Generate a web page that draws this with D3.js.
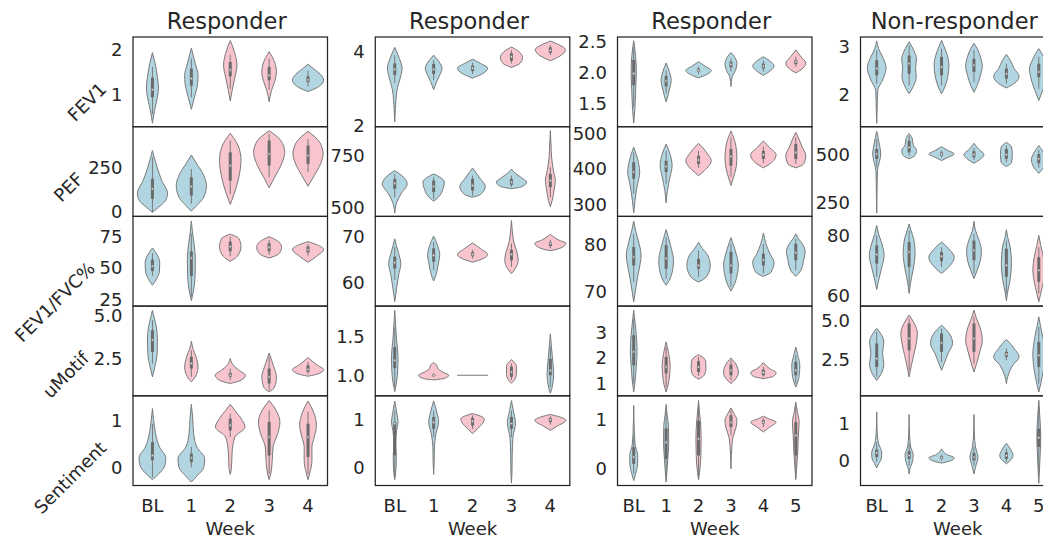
<!DOCTYPE html>
<html>
<head>
<meta charset="utf-8">
<script src="https://d3js.org/d3.v7.min.js"></script>
<style>
  body { margin: 0; background: #fff; }
  svg { display: block; font-family: "DejaVu Sans", sans-serif; }
</style>
</head>
<body>
<svg width="1043" height="539"></svg>
<script>
// panel titles, row measures and week categories
const groups = ["Responder", "Responder", "Responder", "Non-responder"];
const measures = ["FEV1", "PEF", "FEV1/FVC%", "uMotif", "Sentiment"];
const weeks = [
  ["BL", "1", "2", "3", "4"],
  ["BL", "1", "2", "3", "4"],
  ["BL", "1", "2", "3", "4", "5"],
  ["BL", "1", "2", "3", "4", "5"]
];

// y limits and tick labels, per column then per row
const yLimits = [
  [[0.28, 2.29], [-30, 481], [19.8, 90.5], [0.35, 5.52], [-0.374, 1.52]],
  [[1.98, 4.4], [455, 890], [54.9, 74.5], [0.737, 1.885], [-0.37, 1.5]],
  [[1.13, 2.58], [266, 519], [67, 86], [0.52, 4.03], [-0.34, 1.486]],
  [[1.34, 3.19], [179, 645], [56.6, 86.3], [0.2, 5.89], [-0.67, 1.73]]
];
const yTicks = [
  [["1", "2"], ["0", "250"], ["25", "50", "75"], ["2.5", "5.0"], ["0", "1"]],
  [["2", "4"], ["500", "750"], ["60", "70"], ["1.0", "1.5"], ["0", "1"]],
  [["1.5", "2.0", "2.5"], ["300", "400", "500"], ["70", "80"], ["1", "2", "3"], ["0", "1"]],
  [["2", "3"], ["250", "500"], ["60", "80"], ["2.5", "5.0"], ["0", "1"]]
];

// b = lightblue, p = pink
const hues = [
  ["bbppb", "bbppp", "bbppp", "bpppp", "bbppp"],
  ["bbbpp", "bbbbp", "bbppp", "bpppb", "bbpbp"],
  ["bbbbbp", "bbpppp", "bbbbbb", "bppppb", "bbpppp"],
  ["bbbbbb", "bbbbbb", "bbbbbp", "bpbpbb", "bbbbbb"]
];

// each violin: [density profile [[value, relative width], ...] bottom to top,
//               box [low whisker, q1, median, q3, high whisker]]
const patient1 = [
  [ // FEV1
    [[[0.36,0],[0.64,.13],[0.94,.32],[1.15,.39],[1.39,.32],[1.70,.17],[1.94,0]], [0.56,0.94,1.11,1.38,1.62]],
    [[[0.67,0],[0.94,.2],[1.24,.4],[1.43,.43],[1.70,.25],[2.04,0]], [0.94,1.2,1.36,1.58,1.81]],
    [[[0.86,0],[1.09,.12],[1.39,.3],[1.66,.43],[1.92,.3],[2.21,0]], [1.13,1.41,1.55,1.73,1.89]],
    [[[0.84,0],[1.09,.15],[1.32,.38],[1.51,.47],[1.73,.35],[1.96,0]], [1.11,1.32,1.43,1.62,1.81]],
    [[[1.07,0],[1.15,.55],[1.32,1.0],[1.45,.8],[1.58,.35],[1.68,0]], [1.18,1.28,1.33,1.41,1.53]]
  ],
  [ // PEF
    [[[-7,0],[23,.4],[61,.85],[102,.97],[174,.6],[250,.3],[345,0]], [-5,70,127,184,307]],
    [[[0,0],[32,.35],[80,.8],[146,.97],[212,.75],[269,.35],[320,0]], [42,89,140,193,240]],
    [[[38,0],[98,.25],[193,.55],[288,.69],[364,.55],[443,0]], [98,174,259,335,402]],
    [[[133,0],[193,.35],[259,.75],[335,1.0],[402,.75],[458,0]], [193,259,326,402,439]],
    [[[142,0],[203,.4],[269,.8],[326,.97],[392,.75],[455,0]], [222,269,316,373,411]]
  ],
  [ // FEV1/FVC%
    [[[36.3,0],[41,.25],[47.4,.45],[53.8,.47],[60.3,.3],[65.5,0]], [43.5,47.4,51.3,56.4,61.6]],
    [[[24.2,0],[30.6,.12],[43.5,.24],[56.4,.26],[69.3,.17],[78.3,.07],[86.9,0]], [27.1,43.5,57.7,62.9,77]],
    [[[55.1,0],[59,.45],[66.7,.69],[73.2,.55],[76.5,0]], [59,62.9,66.7,70.6,74.5]],
    [[[57.7,0],[60.8,.6],[66.2,.8],[70.6,.6],[74.5,0]], [60.3,62.9,66.2,69.3,72]],
    [[[54.3,0],[59,.55],[64.6,1.0],[68,.6],[70.6,0]], [59.4,62.1,64.1,66.7,68.7]]
  ],
  [ // uMotif
    [[[1.44,0],[2.0,.15],[2.79,.3],[3.56,.32],[4.33,.25],[4.9,.1],[5.28,0]], [2.2,2.88,3.56,4.13,4.7]],
    [[[1.15,0],[1.44,.25],[2.0,.43],[2.6,.3],[3.08,.1],[3.5,0]], [1.44,1.92,2.21,2.6,2.98]],
    [[[1.06,0],[1.25,.7],[1.54,.97],[1.83,.55],[2.11,.2],[2.5,0]], [1.25,1.44,1.54,1.67,1.92]],
    [[[0.57,0],[0.86,.35],[1.44,.47],[2.02,.3],[2.5,.12],[2.82,0]], [0.67,1.06,1.44,1.92,2.6]],
    [[[1.48,0],[1.63,.7],[1.87,1.0],[2.11,.6],[2.36,.25],[2.56,0]], [1.6,1.73,1.87,2.11,2.3]]
  ],
  [ // Sentiment
    [[[-0.25,0],[-0.13,.4],[0.05,.8],[0.21,.86],[0.44,.45],[0.72,.2],[1.0,.08],[1.25,0]], [-0.2,0.16,0.26,0.54,0.93]],
    [[[-0.3,0],[-0.16,.4],[0.01,.8],[0.19,.86],[0.44,.35],[0.72,.15],[1.07,.08],[1.34,0]], [0.01,0.12,0.21,0.3,0.44]],
    [[[-0.14,0],[0.01,.08],[0.33,.12],[0.65,.3],[0.86,.95],[1.04,.7],[1.21,.3],[1.34,0]], [0.65,0.79,0.9,1.04,1.14]],
    [[[-0.25,0],[-0.13,.1],[0.16,.2],[0.44,.25],[0.72,.55],[0.97,.69],[1.21,.45],[1.42,0]], [-0.13,0.26,0.65,0.97,1.21]],
    [[[-0.25,0],[-0.13,.1],[0.16,.25],[0.44,.25],[0.65,.4],[0.9,.54],[1.18,.35],[1.41,0]], [-0.13,0.23,0.65,0.93,1.18]]
  ]
];

const patient2 = [
  [
    [[[2.11,0],[2.44,.04],[2.98,.15],[3.29,.35],[3.56,.47],[3.82,.3],[4.12,0]], [3.16,3.38,3.53,3.69,3.91]],
    [[[2.98,0],[3.2,.2],[3.38,.4],[3.56,.54],[3.73,.35],[3.91,0]], [3.24,3.4,3.53,3.67,3.78]],
    [[[3.29,0],[3.4,.6],[3.56,.97],[3.69,.5],[3.8,0]], [3.4,3.48,3.56,3.63,3.71]],
    [[[3.58,0],[3.69,.55],[3.85,.71],[4.0,.5],[4.13,0]], [3.69,3.76,3.87,3.96,4.04]],
    [[[3.76,0],[3.88,.6],[4.06,.97],[4.18,.6],[4.29,0]], [3.91,3.97,4.04,4.12,4.18]]
  ],
  [
    [[[471,0],[516,.1],[564,.4],[613,.8],[653,.45],[677,0]], [548,589,616,637,661]],
    [[[529,0],[548,.3],[589,.6],[621,.69],[645,.4],[661,0]], [540,573,600,629,645]],
    [[[548,0],[561,.5],[600,.82],[637,.5],[669,.2],[690,0]], [556,581,605,637,653]],
    [[[589,0],[600,.7],[621,.97],[645,.6],[664,.25],[685,0]], [597,608,621,637,653]],
    [[[503,0],[532,.12],[589,.25],[629,.32],[677,.2],[742,.08],[806,.04],[871,0]], [548,597,629,661,693]]
  ],
  [
    [[[55.9,0],[58.4,.1],[61.7,.25],[64.2,.39],[66.4,.25],[68.2,.1],[69.6,0]], [60.6,63.1,64.4,65.7,67.8]],
    [[[60.4,0],[61.7,.15],[64.2,.3],[66,.39],[68.2,.25],[70.2,0]], [62.8,64.6,66,67.5,68.9]],
    [[[64.5,0],[65.1,.55],[66.2,.97],[67.5,.5],[68.7,0]], [65.3,65.8,66.2,66.7,67.2]],
    [[[62,0],[63.1,.25],[64.9,.43],[66.7,.35],[68.9,.15],[71.5,.05],[73.6,0]], [63.5,64.9,66.2,67.2,68.6]],
    [[[67,0],[67.5,.6],[68.6,1.0],[69.4,.5],[70.6,0]], [67.5,68,68.6,68.9,69.4]]
  ],
  [
    [[[0.79,0],[0.89,.1],[1.11,.2],[1.24,.21],[1.45,.12],[1.62,.06],[1.83,0]], [0.85,1.09,1.19,1.36,1.62]],
    [[[0.94,0],[0.96,.7],[1.0,.97],[1.04,.6],[1.09,.25],[1.13,.2],[1.16,0]], [0.98,0.99,1.0,1.01,1.02]],
    [[[1.0,1.0]], [1.0,1.0,1.0,1.0,1.0]],
    [[[0.9,0],[0.94,.2],[1.02,.32],[1.11,.32],[1.16,.2],[1.2,0]], [0.94,0.98,1.04,1.11,1.15]],
    [[[0.77,0],[0.85,.12],[1.02,.21],[1.19,.15],[1.36,.07],[1.53,0]], [0.85,1.0,1.06,1.21,1.36]]
  ],
  [
    [[[-0.25,0],[-0.13,.05],[0.22,.1],[0.5,.06],[0.78,.12],[0.95,.21],[1.16,.12],[1.39,0]], [-0.19,0.26,0.92,0.95,1.19]],
    [[[-0.14,0],[0.08,.03],[0.43,.05],[0.71,.15],[0.95,.32],[1.16,.2],[1.39,0]], [0.64,0.81,0.95,1.06,1.19]],
    [[[0.71,0],[0.81,.3],[0.95,.7],[1.02,.75],[1.09,.4],[1.13,0]], [0.81,0.88,0.97,1.04,1.09]],
    [[[-0.32,0],[-0.13,.03],[0.29,.05],[0.64,.1],[0.93,.26],[1.19,.12],[1.4,0]], [0.64,0.81,0.92,1.06,1.19]],
    [[[0.78,0],[0.86,.4],[0.99,1.0],[1.06,.6],[1.11,0]], [0.9,0.95,1.0,1.04,1.07]]
  ]
];

const patient3 = [
  [
    [[[1.19,0],[1.39,.08],[1.72,.15],[2.02,.2],[2.26,.15],[2.52,0]], [1.45,1.8,1.99,2.21,2.42]],
    [[[1.53,0],[1.64,.15],[1.77,.3],[1.88,.39],[2.02,.25],[2.16,0]], [1.67,1.78,1.87,1.95,2.04]],
    [[[1.92,0],[1.97,.6],[2.04,.98],[2.11,.5],[2.18,0]], [1.98,2.02,2.04,2.07,2.1]],
    [[[1.78,0],[1.94,.1],[2.04,.35],[2.15,.46],[2.25,.3],[2.33,0]], [2.02,2.09,2.14,2.18,2.23]],
    [[[1.96,0],[2.02,.45],[2.11,.82],[2.2,.45],[2.26,0]], [2.02,2.07,2.11,2.15,2.2]],
    [[[2.0,0],[2.05,.4],[2.16,.77],[2.26,.4],[2.37,0]], [2.1,2.14,2.18,2.21,2.26]]
  ],
  [
    [[[276,0],[311,.1],[349,.25],[391,.46],[428,.3],[461,0]], [330,372,391,419,447]],
    [[[304,0],[339,.1],[377,.3],[409,.46],[442,.3],[470,0]], [358,391,407,423,451]],
    [[[381,0],[395,.45],[423,.98],[447,.6],[461,.3],[472,0]], [403,414,425,437,451]],
    [[[353,0],[377,.2],[405,.4],[433,.46],[470,.35],[507,0]], [377,409,435,456,489]],
    [[[403,0],[414,.5],[440,.98],[461,.45],[479,0]], [416,428,440,451,463]],
    [[[403,0],[414,.6],[437,.77],[465,.45],[484,.25],[503,0]], [414,428,447,470,489]]
  ],
  [
    [[[67.9,0],[69.7,.1],[73.2,.3],[76,.5],[77.8,.57],[80.9,.35],[83,.15],[85,0]], [72.1,75.6,77.4,79.5,82.3]],
    [[[71.4,0],[72.5,.25],[74.6,.5],[76.7,.57],[79.2,.4],[81.3,.2],[83.2,0]], [72.8,74.9,77.1,79.9,81.6]],
    [[[72.1,0],[73.2,.6],[75.6,.9],[77.8,.7],[79.2,.3],[80.5,0]], [73.2,74.9,75.6,77,78.8]],
    [[[70.2,0],[71.8,.3],[73.9,.5],[75.6,.57],[78.1,.4],[79.9,.2],[81.5,0]], [71.1,73.9,75.6,78.5,80.2]],
    [[[73.3,0],[74.2,.6],[76.3,.82],[78.1,.5],[80.2,.2],[82.5,0]], [73.9,75.6,76.8,78.1,80.2]],
    [[[73.3,0],[74.6,.4],[76.7,.6],[78.5,.72],[80.2,.5],[81.3,.2],[82.3,0]], [74.6,76.7,78.3,80.2,81.3]]
  ],
  [
    [[[0.67,0],[1.06,.1],[1.71,.2],[2.24,.26],[2.89,.2],[3.41,.1],[3.87,0]], [1.0,1.71,2.24,2.89,3.54]],
    [[[0.67,0],[0.93,.15],[1.39,.28],[1.71,.31],[2.17,.2],[2.63,0]], [0.86,1.39,1.65,2.04,2.43]],
    [[[1.17,0],[1.34,.45],[1.59,.57],[1.87,.55],[2.04,.3],[2.13,0]], [1.3,1.45,1.65,1.87,2.04]],
    [[[1.0,0],[1.17,.35],[1.45,.57],[1.74,.4],[2.0,0]], [1.12,1.32,1.52,1.74,1.91]],
    [[[1.19,0],[1.29,.8],[1.43,.98],[1.58,.5],[1.82,0]], [1.26,1.32,1.43,1.54,1.65]],
    [[[0.86,0],[1.06,.15],[1.39,.28],[1.71,.31],[2.11,.15],[2.43,0]], [1.0,1.32,1.52,1.85,2.11]]
  ],
  [
    [[[-0.24,0],[-0.1,.15],[0.1,.3],[0.27,.31],[0.48,.12],[0.75,.05],[1.29,0]], [-0.1,0.1,0.24,0.44,0.65]],
    [[[-0.27,0],[-0.07,.06],[0.27,.15],[0.54,.2],[0.88,.18],[1.09,.08],[1.31,0]], [-0.2,0.2,0.54,0.82,1.16]],
    [[[-0.22,0],[-0.07,.08],[0.27,.18],[0.61,.2],[0.95,.15],[1.19,.06],[1.39,0]], [-0.2,0.27,0.61,0.98,1.29]],
    [[[0.0,0],[0.27,.03],[0.64,.15],[0.85,.4],[0.99,.46],[1.12,.25],[1.24,0]], [0.68,0.85,0.95,1.09,1.19]],
    [[[0.75,0],[0.85,.5],[0.95,.98],[1.02,.4],[1.07,0]], [0.85,0.92,0.95,0.99,1.03]],
    [[[-0.22,0],[0,.06],[0.34,.15],[0.68,.2],[0.95,.26],[1.16,.12],[1.36,0]], [-0.17,0.27,0.68,0.95,1.26]]
  ]
];

const patient4 = [
  [
    [[[1.41,0],[1.67,.03],[2.09,.08],[2.3,.45],[2.56,.72],[2.78,.45],[2.95,.15],[3.11,0]], [2.23,2.4,2.54,2.71,2.92]],
    [[[2.02,0],[2.16,.3],[2.36,.55],[2.54,.5],[2.74,.57],[2.92,.35],[3.09,0]], [2.19,2.43,2.64,2.81,3.02]],
    [[[2.02,0],[2.16,.25],[2.4,.5],[2.61,.57],[2.81,.45],[2.99,.2],[3.12,0]], [2.19,2.4,2.57,2.78,2.95]],
    [[[2.05,0],[2.19,.25],[2.4,.5],[2.59,.64],[2.78,.5],[2.95,.25],[3.06,0]], [2.26,2.47,2.61,2.74,2.92]],
    [[[2.14,0],[2.23,.6],[2.38,.98],[2.54,.6],[2.71,.3],[2.83,0]], [2.23,2.33,2.43,2.54,2.64]],
    [[[1.88,0],[2.09,.3],[2.33,.6],[2.54,.72],[2.74,.45],[2.95,0]], [2.12,2.36,2.47,2.64,2.78]]
  ],
  [
    [[[196,0],[279,.02],[417,.06],[460,.2],[503,.31],[555,.2],[621,0]], [434,478,503,529,581]],
    [[[478,0],[495,.45],[521,.57],[552,.3],[581,.25],[610,0]], [495,512,538,572,598]],
    [[[469,0],[486,.5],[503,.98],[521,.5],[541,0]], [486,495,503,512,521]],
    [[[455,0],[472,.4],[500,.77],[529,.35],[559,0]], [472,486,500,517,534]],
    [[[438,0],[460,.4],[500,.46],[538,.4],[564,0]], [460,478,500,529,547]],
    [[[403,0],[431,.35],[474,.57],[512,.35],[547,0]], [431,455,478,503,524]]
  ],
  [
    [[[62.1,0],[65.2,.15],[69.6,.4],[73.4,.57],[77.2,.4],[80.5,.15],[83.3,0]], [66.3,70.7,73.7,76.7,80]],
    [[[60.8,0],[64.1,.1],[68.5,.3],[74,.46],[78.9,.35],[81.6,.15],[83.8,0]], [63,69.6,74.5,77.8,81.6]],
    [[[67.4,0],[69.3,.5],[72.8,.98],[75.6,.55],[77.8,0]], [69.6,71.5,73.1,74.5,76.1]],
    [[[65.7,0],[68.5,.25],[71.8,.5],[75.1,.57],[78.9,.35],[81.6,.12],[84.7,0]], [67.4,71.8,75.1,78.3,80.5]],
    [[[58.4,0],[61.3,.1],[65.7,.3],[70.7,.39],[76.1,.3],[79.4,.1],[81.9,0]], [60.8,66.3,70.1,75.6,78.3]],
    [[[58,0],[60.8,.15],[64.6,.35],[68.5,.46],[72.8,.35],[76.7,.15],[80,0]], [60.8,64.6,68.5,72.8,76.1]]
  ],
  [
    [[[1.18,0],[1.61,.35],[2.24,.55],[2.88,.45],[3.62,.55],[4.15,.3],[4.47,0]], [1.4,2.03,2.56,3.52,4.26]],
    [[[1.4,0],[2.03,.15],[2.77,.35],[3.52,.55],[4.15,.64],[4.79,.4],[5.32,0]], [1.82,3.09,3.83,4.79,5.1]],
    [[[1.82,0],[2.24,.2],[2.88,.5],[3.52,.85],[4.15,.6],[4.68,0]], [2.35,2.99,3.56,4.15,4.47]],
    [[[1.71,0],[2.24,.2],[2.99,.45],[3.73,.64],[4.58,.45],[5.1,.2],[5.64,0]], [2.24,2.99,3.83,4.79,5.21]],
    [[[0.97,0],[1.4,.1],[2.14,.5],[2.67,.98],[3.2,.6],[3.52,.3],[3.77,0]], [2.46,2.67,2.84,2.99,3.2]],
    [[[0.44,0],[0.97,.15],[1.82,.35],[2.77,.46],[3.94,.3],[4.68,.12],[5.21,0]], [0.97,2.03,2.77,3.62,4.58]]
  ],
  [
    [[[-0.2,0],[-0.09,.15],[0.04,.35],[0.2,.39],[0.45,.15],[0.8,.03],[1.3,0]], [-0.04,0.09,0.2,0.29,0.49]],
    [[[-0.36,0],[-0.18,.1],[0,.28],[0.16,.31],[0.36,.12],[0.71,.03],[1.23,0]], [-0.13,0.04,0.13,0.25,0.45]],
    [[[-0.07,0],[-0.02,.6],[0.07,.98],[0.16,.4],[0.31,0]], [0,0.04,0.07,0.11,0.16]],
    [[[-0.36,0],[-0.18,.12],[0.09,.31],[0.36,.12],[0.71,.03],[1.23,0]], [-0.13,0,0.09,0.2,0.36]],
    [[[-0.09,0],[0,.3],[0.13,.51],[0.31,.3],[0.46,0]], [-0.04,0.04,0.13,0.22,0.31]],
    [[[-0.61,0],[-0.27,.05],[0.27,.12],[0.63,.15],[1.07,.1],[1.61,0]], [-0.36,0.36,0.61,0.85,1.43]]
  ]
];

const svg = d3.select("svg");
const plotTop = 37, rowH = 89.7, colW = 194.5;
const lefts = [133, 375.3, 617.5, 860.5];
const fills = { b: "#b1d6e2", p: "#f8c4cd" };
const gray = "#797979", ink = "#262626";
const patients = [patient1, patient2, patient3, patient4];

patients.forEach((panels, c) => {
  const x = d3.scalePoint().domain(weeks[c])
    .range([lefts[c], lefts[c] + colW]).padding(0.5);
  const half = x.step() * 0.4;

  panels.forEach((violins, r) => {
    const y0 = plotTop + r * rowH;
    const y = d3.scaleLinear().domain(yLimits[c][r]).range([y0 + rowH, y0]);
    const g = svg.append("g");

    violins.forEach(([prof, box], i) => {
      const cx = x(weeks[c][i]);
      const fill = fills[hues[c][r][i]];
      if (prof.length === 1) {
        // no spread: seaborn draws a flat line
        g.append("line")
          .attr("x1", cx - prof[0][1] * half).attr("x2", cx + prof[0][1] * half)
          .attr("y1", y(prof[0][0])).attr("y2", y(prof[0][0]))
          .attr("stroke", gray).attr("stroke-width", 1);
        return;
      }
      const area = d3.area()
        .curve(d3.curveMonotoneY)
        .y(d => y(d[0]))
        .x0(d => cx - d[1] * half)
        .x1(d => cx + d[1] * half);
      g.append("path")
        .attr("d", area(prof))
        .attr("fill", fill)
        .attr("stroke", gray)
        .attr("stroke-width", 1);

      // inner box
      g.append("line")
        .attr("x1", cx).attr("x2", cx)
        .attr("y1", y(box[0])).attr("y2", y(box[4]))
        .attr("stroke", gray).attr("stroke-width", 1);
      g.append("line")
        .attr("x1", cx).attr("x2", cx)
        .attr("y1", y(box[1])).attr("y2", y(box[3]))
        .attr("stroke", "#6a6a6a").attr("stroke-width", 3);
      g.append("circle")
        .attr("cx", cx).attr("cy", y(box[2])).attr("r", 1.2)
        .attr("fill", "#e6e6e6").attr("stroke", gray).attr("stroke-width", 0.8);
    });

    g.append("rect")
      .attr("x", lefts[c]).attr("y", y0)
      .attr("width", colW).attr("height", rowH)
      .attr("fill", "none").attr("stroke", ink).attr("stroke-width", 1.25);

    const labels = g.selectAll("text.ytick")
      .data(yTicks[c][r])
      .join("text")
      .attr("class", "ytick")
      .attr("x", lefts[c] - 10.5)
      .attr("y", d => y(+d) + 6.5)
      .attr("text-anchor", "end")
      .attr("font-size", 18)
      .attr("fill", ink)
      .text(d => d);

    if (c === 0) {
      let widest = 0;
      labels.each(function () { widest = Math.max(widest, this.getComputedTextLength()); });
      const lx = lefts[c] - 10.5 - widest - 3.5;
      const ly = y0 + rowH / 2 + 8.5;
      svg.append("text")
        .attr("transform", `translate(${lx},${ly}) rotate(-45)`)
        .attr("text-anchor", "end")
        .attr("font-size", 18)
        .attr("fill", ink)
        .text(measures[r]);
    }
  });

  const bottom = plotTop + 5 * rowH;
  svg.append("g").selectAll("text")
    .data(weeks[c])
    .join("text")
    .attr("x", d => x(d))
    .attr("y", bottom + 26)
    .attr("text-anchor", "middle")
    .attr("font-size", 18)
    .attr("fill", ink)
    .text(d => d);

  svg.append("text")
    .attr("x", lefts[c] + colW / 2)
    .attr("y", 535)
    .attr("text-anchor", "middle")
    .attr("font-size", 18)
    .attr("fill", ink)
    .text("Week");

  svg.append("text")
    .attr("x", lefts[c] + colW / 2 - 3.5)
    .attr("y", 28.5)
    .attr("text-anchor", "middle")
    .attr("font-size", 22.5)
    .attr("fill", ink)
    .text(groups[c]);
});
</script>
</body>
</html>
